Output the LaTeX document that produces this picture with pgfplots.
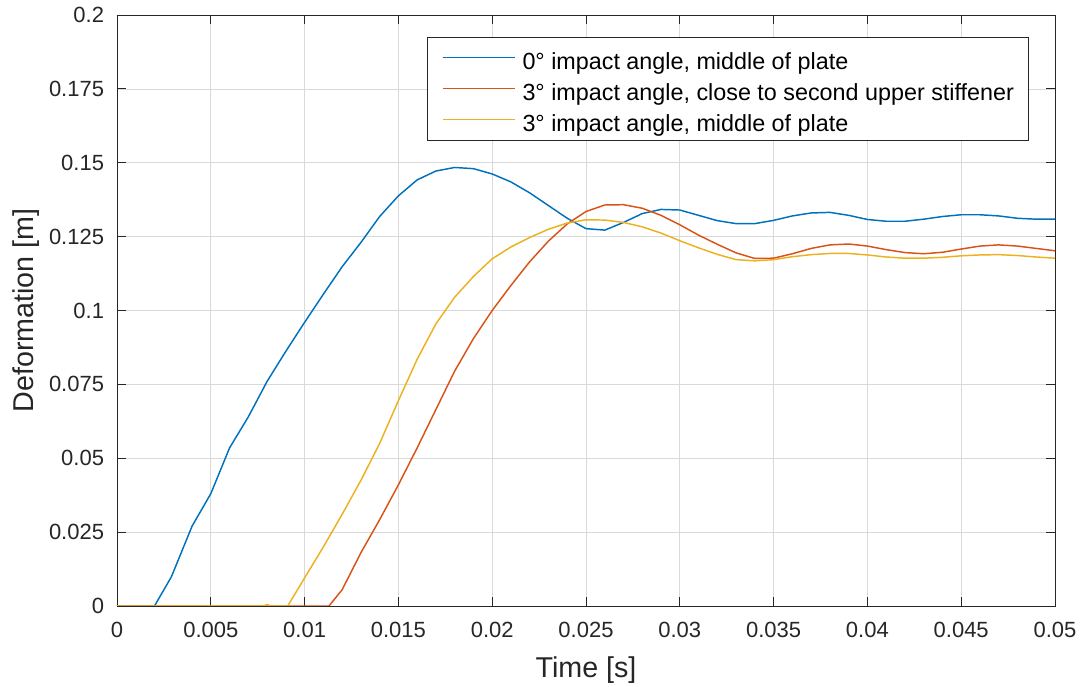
\documentclass[border=0pt]{standalone}
\usepackage{fontspec}
\setmainfont{Liberation Sans}
\usepackage{pgfplots}
\pgfplotsset{compat=1.18}
\definecolor{mblue}{rgb}{0,0.447,0.741}
\definecolor{mred}{rgb}{0.85,0.325,0.098}
\definecolor{myellow}{rgb}{0.929,0.694,0.125}
\definecolor{axgray}{gray}{0.15}
\begin{document}
\begin{tikzpicture}
\begin{axis}[
  scale only axis,
  width=703.5pt, height=443.25pt,
  xmin=0, xmax=0.05, ymin=0, ymax=0.2,
  xtick={0,0.005,0.01,0.015,0.02,0.025,0.03,0.035,0.04,0.045,0.05},
  xticklabels={0,0.005,0.01,0.015,0.02,0.025,0.03,0.035,0.04,0.045,0.05},
  ytick={0,0.025,0.05,0.075,0.1,0.125,0.15,0.175,0.2},
  yticklabels={0,0.025,0.05,0.075,0.1,0.125,0.15,0.175,0.2},
  scaled x ticks=false, scaled y ticks=false,
  tick label style={font=\fontsize{16.5}{19}\selectfont, text=axgray, inner sep=0pt},
  xticklabel style={anchor=north, yshift=-12pt},
  yticklabel style={anchor=east, xshift=-9.5pt},
  tick align=inside,
  major tick length=7pt,
  tick style={axgray, line width=0.6pt},
  axis line style={axgray, line width=0.6pt},
  grid=major,
  major grid style={gray!30, line width=0.5pt},
  xlabel={Time [s]},
  ylabel={Deformation [m]},
  label style={font=\fontsize{21.5}{25}\selectfont, text=axgray},
  xlabel style={at={([yshift=-54pt]rel axis cs:0.5,0)}, anchor=base},
  ylabel style={at={([xshift=-62.25pt]rel axis cs:0,0.5)}, anchor=base},
  legend style={at={(1,1)}, anchor=north east, xshift=-19.5pt, yshift=-16.5pt,
    font=\fontsize{17.5}{20}\selectfont, draw=axgray, line width=0.6pt, fill=white,
    nodes={inner sep=0pt, text height=21pt, text depth=3.5pt},
    row sep=-1.25pt, column sep=5.25pt, inner xsep=11pt, inner ysep=3pt},
  legend cell align=left,
  legend image code/.code={\draw[#1, line width=1.1pt] (0pt,0pt) -- (54pt,0pt);},
]
\addplot[mblue, line width=1.1pt] coordinates {
(0,0)(0.002,0)(0.0029,0.0099)(0.004,0.027)(0.005,0.038)(0.006,0.0535)(0.007,0.064)(0.008,0.076)(0.009,0.0862)(0.010,0.096)(0.011,0.1055)(0.012,0.1148)(0.013,0.123)(0.014,0.1318)(0.015,0.1388)(0.016,0.1442)(0.017,0.1472)(0.018,0.1484)(0.019,0.148)(0.020,0.1462)(0.021,0.1435)(0.022,0.1398)(0.023,0.1355)(0.024,0.1312)(0.025,0.1277)(0.026,0.1272)(0.027,0.1298)(0.028,0.1328)(0.029,0.1342)(0.030,0.134)(0.031,0.1322)(0.032,0.1304)(0.033,0.1294)(0.034,0.1294)(0.035,0.1305)(0.036,0.132)(0.037,0.133)(0.038,0.1332)(0.039,0.1322)(0.040,0.1308)(0.041,0.1302)(0.042,0.1302)(0.043,0.1309)(0.044,0.1318)(0.045,0.1324)(0.046,0.1324)(0.047,0.132)(0.048,0.1312)(0.049,0.1309)(0.050,0.1309)
};
\addlegendentry{0° impact angle, middle of plate}
\addplot[mred, line width=1.1pt] coordinates {
(0,0)(0.0113,0)(0.012,0.0055)(0.013,0.018)(0.014,0.0292)(0.015,0.041)(0.016,0.0535)(0.017,0.0665)(0.018,0.0795)(0.019,0.0905)(0.020,0.1)(0.021,0.1085)(0.022,0.1165)(0.023,0.1235)(0.024,0.1293)(0.025,0.1335)(0.026,0.1357)(0.027,0.1358)(0.028,0.1346)(0.029,0.1322)(0.030,0.129)(0.031,0.1255)(0.032,0.1224)(0.033,0.1195)(0.034,0.1176)(0.035,0.1177)(0.036,0.1192)(0.037,0.121)(0.038,0.1222)(0.039,0.1225)(0.040,0.1218)(0.041,0.1206)(0.042,0.1196)(0.043,0.1192)(0.044,0.1197)(0.045,0.1208)(0.046,0.1218)(0.047,0.1222)(0.048,0.1218)(0.049,0.121)(0.050,0.1202)
};
\addlegendentry{3° impact angle, close to second upper stiffener}
\addplot[myellow, line width=1.1pt] coordinates {
(0,0)(0.0078,0)(0.008,0.0005)(0.0082,0)(0.0091,0)(0.010,0.0095)(0.011,0.02)(0.012,0.031)(0.013,0.0425)(0.014,0.055)(0.015,0.0695)(0.016,0.0835)(0.017,0.0955)(0.018,0.1045)(0.019,0.1115)(0.020,0.1175)(0.021,0.1215)(0.022,0.1247)(0.023,0.1275)(0.024,0.1296)(0.025,0.1307)(0.026,0.1306)(0.027,0.1298)(0.028,0.1283)(0.029,0.1262)(0.030,0.1236)(0.031,0.1212)(0.032,0.119)(0.033,0.1172)(0.034,0.1168)(0.035,0.1172)(0.036,0.1182)(0.037,0.1189)(0.038,0.1193)(0.039,0.1193)(0.040,0.1188)(0.041,0.1181)(0.042,0.1177)(0.043,0.1177)(0.044,0.118)(0.045,0.1185)(0.046,0.1188)(0.047,0.1189)(0.048,0.1186)(0.049,0.1181)(0.050,0.1177)
};
\addlegendentry{3° impact angle, middle of plate}
\end{axis}
\pgfresetboundingbox
\path ([shift={(-87.75pt,-60.75pt)}]current axis.south west) rectangle ([shift={(19.5pt,11.25pt)}]current axis.north east);
\end{tikzpicture}
\end{document}
